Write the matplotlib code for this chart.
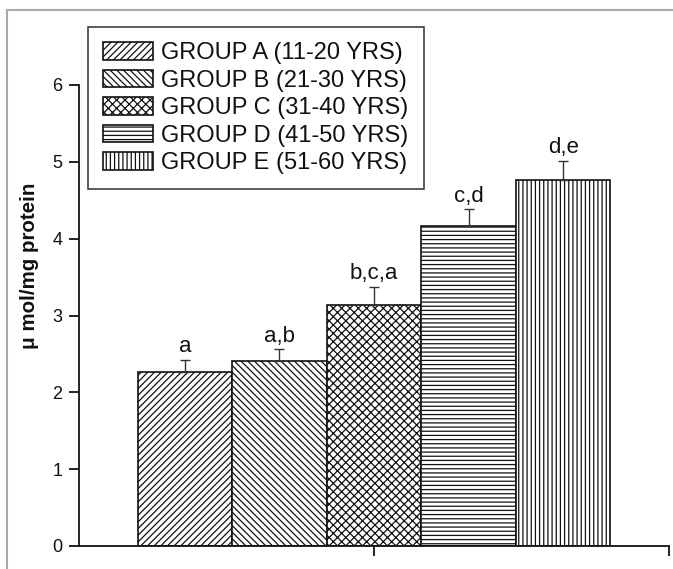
import matplotlib
matplotlib.use("Agg")
import matplotlib.pyplot as plt
from matplotlib.patches import Rectangle

plt.rcParams['font.family'] = ['Liberation Sans', 'DejaVu Sans']
plt.rcParams['hatch.linewidth'] = 0.9
plt.rcParams['hatch.color'] = '#222222'

groups = ["GROUP A (11-20 YRS)", "GROUP B (21-30 YRS)", "GROUP C (31-40 YRS)",
          "GROUP D (41-50 YRS)", "GROUP E (51-60 YRS)"]
values = [2.27, 2.41, 3.14, 4.16, 4.77]
errors = [0.15, 0.15, 0.23, 0.22, 0.24]
sig_labels = ["a", "a,b", "b,c,a", "c,d", "d,e"]
hatches = ['/////', '\\\\\\\\\\', 'xxxx', '----', '||||']
positions = [-2, -1, 0, 1, 2]

fig = plt.figure(figsize=(6.73, 5.69), dpi=100)
fig.patches.append(Rectangle((7 / 673, -0.1), 1.2, 1 - 9.5 / 569 + 0.1,
                             transform=fig.transFigure, fill=False,
                             edgecolor='#aaaaaa', linewidth=1.5, zorder=0))
ax = fig.add_axes([79 / 673, 1 - 546 / 569, 590 / 673, 461 / 569])

handles = []
for x, v, e, h, lab, g in zip(positions, values, errors, hatches, sig_labels, groups):
    b = ax.bar(x, v, width=1.0, color='white', edgecolor='#111111',
               linewidth=1.2, hatch=h, label=g, zorder=2)
    handles.append(b)
    ax.errorbar(x, v, yerr=[[0], [e]], fmt='none', ecolor='#333333',
                elinewidth=1.0, capsize=3.6, capthick=1.0, zorder=3)
    ax.annotate(lab, (x, v + e), xytext=(0, 5.5), textcoords='offset points',
                ha='center', va='baseline', fontsize=16, color='#111111')

ax.set_xlim(-3.12, 3.12)
ax.set_ylim(0, 6)
ax.set_yticks([0, 1, 2, 3, 4, 5, 6])
ax.set_xticks([0, 3.12])
ax.set_xticklabels(['', ''])
ax.tick_params(axis='both', direction='out', length=7, width=1.3, colors='#111111',
               labelsize=13)
ax.tick_params(axis='y', pad=5)
for s in ['top', 'right']:
    ax.spines[s].set_visible(False)
for s in ['left', 'bottom']:
    ax.spines[s].set_linewidth(1.3)
    ax.spines[s].set_color('#111111')

ax.set_ylabel('μ mol/mg protein', fontsize=14.8, fontweight='bold', color='#111111')
ax.yaxis.set_label_coords(-0.068, 0.607)

leg = fig.legend(handles=handles, labels=groups, loc='upper left',
                 bbox_to_anchor=(88 / 673, 1 - 27 / 569), fontsize=17,
                 frameon=True, fancybox=False, handlelength=2.1, handleheight=0.76,
                 handletextpad=0.35, labelspacing=0.23, borderpad=0.65,
                 borderaxespad=0.0)
leg.get_frame().set_edgecolor('#111111')
leg.get_frame().set_linewidth(1.2)
for t in leg.get_texts():
    t.set_color('#111111')

fig.savefig('out.png', dpi=100)
